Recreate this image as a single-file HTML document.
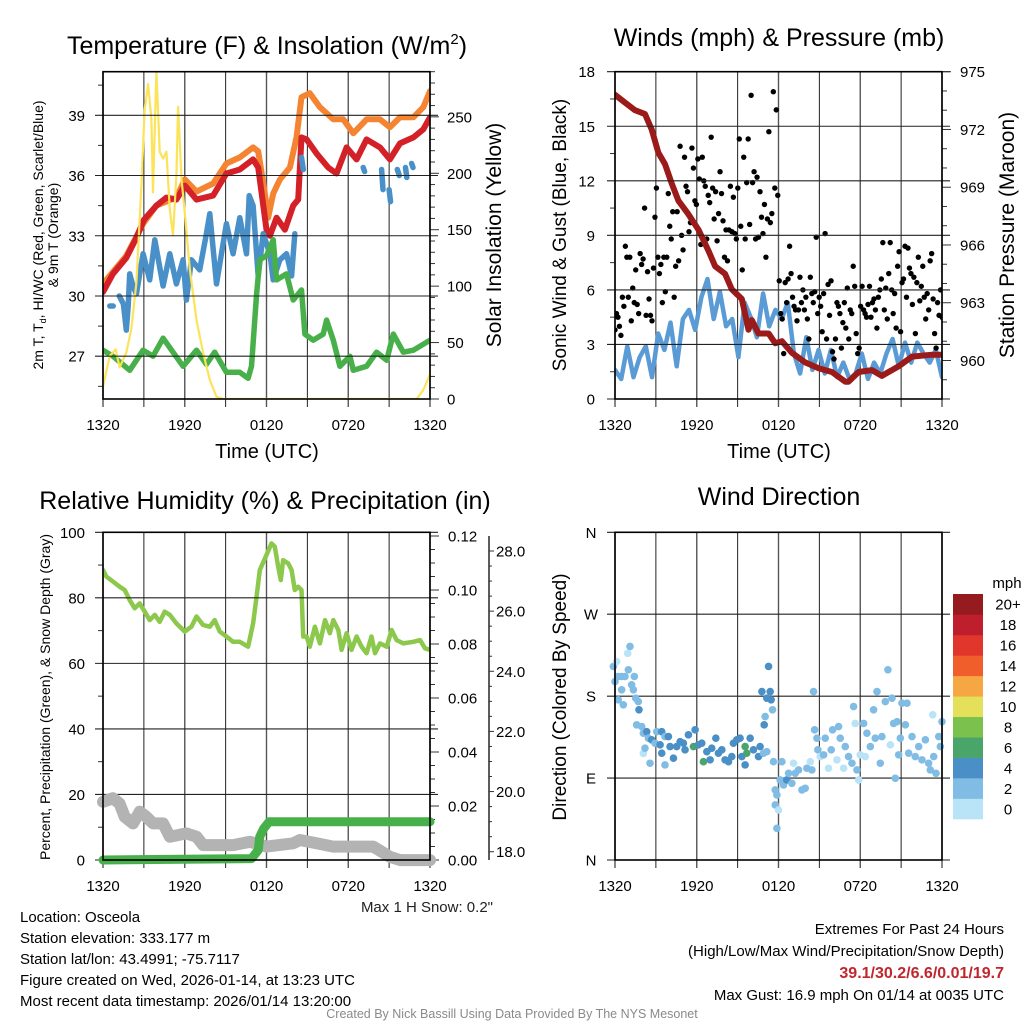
<!DOCTYPE html>
<html><head><meta charset="utf-8"><style>
html,body{margin:0;padding:0;background:#fff;}
svg{display:block;font-family:"Liberation Sans",Arial,sans-serif;}
</style></head><body>
<svg id="fig" width="1024" height="1024" viewBox="0 0 1024 1024"></svg>
<script>
// ---------------- DATA ----------------
const timeTickLabels = ["1320","1920","0120","0720","1320"];
// Panel 1 (hours since 1320 UTC)
const tempT = [0,0.73,1.71,2.45,3.01,3.92,4.65,5.39,6.0,6.86,8.08,9.06,10.04,11.02,11.39,12.0,12.25,12.74,13.35,13.96,14.33,14.57,14.94,15.67,16.53,17.14,17.88,18.61,19.35,20.33,21.06,21.8,22.78,23.51,24];
const tempV = [30.2,31.1,31.9,32.9,33.8,34.5,34.9,34.8,35.5,34.8,35.0,36.1,36.3,36.8,36.4,33.3,33.0,33.9,33.3,34.5,34.8,37.9,37.8,37.1,36.4,36.1,37.4,36.8,37.8,37.4,36.8,37.6,37.9,38.3,38.9];
const t9T = [0,1.71,2.94,3.92,5.39,6.0,6.86,8.08,9.06,10.04,11.02,11.39,11.88,12.12,12.49,12.98,13.72,14.2,14.57,15.18,15.92,16.9,17.63,18.37,19.35,20.33,21.06,21.8,22.78,23.51,24];
const t9V = [30.6,32.0,33.6,34.5,34.9,35.8,35.2,35.6,36.6,36.9,37.4,37.2,35.1,33.9,35.1,35.8,36.4,37.9,39.9,40.1,39.4,38.8,38.8,38.1,38.8,38.8,38.4,38.9,38.9,39.4,40.2];
const hiT = [0.5,0.75,null,1.2,1.5,1.71,1.85,1.96,2.2,2.45,2.94,3.43,3.8,4.41,4.9,5.39,5.88,6.12,6.49,7.1,7.59,7.84,8.33,9.06,9.55,10.04,10.53,10.73,11.02,11.39,11.76,12.25,12.49,12.98,13.47,13.84,14.08,null,14.57,14.7,null,19.1,19.2,null,20.45,20.55,null,21.0,21.1,null,21.6,21.75,null,22.2,22.3,null,22.65,22.75];
const hiV = [29.5,29.5,null,30.0,29.6,28.3,29.5,31.1,30.5,30.1,32.1,30.8,32.8,30.5,32.1,30.6,31.8,29.8,31.8,31.3,33.1,34.1,30.6,33.6,32.1,33.9,32.1,35.0,34.5,31.0,33.1,32.1,30.8,31.8,32.1,31.0,33.1,null,36.9,36.3,null,36.4,36.2,null,36.3,35.3,null,35.3,34.7,null,36.3,36.0,null,36.4,35.9,null,36.6,36.4];
const dewT = [0,0.73,1.96,2.94,3.67,4.41,5.14,5.88,6.86,7.59,8.2,9.06,10.04,10.65,10.9,11.27,11.51,12.0,12.49,12.74,13.47,13.96,14.57,14.82,15.43,16.16,16.41,16.9,17.39,18.12,18.37,19.35,20.08,20.82,21.31,22.04,22.78,24];
const dewV = [27.3,27.0,26.3,27.3,27.0,27.9,27.2,26.5,27.3,26.6,27.2,26.2,26.2,25.9,26.5,30.1,31.8,32.0,32.8,30.8,31.1,29.8,30.3,28.1,27.8,28.1,28.8,27.8,26.5,27.0,26.3,26.5,27.2,26.8,28.1,27.2,27.3,27.8];
const solT = [0,0.49,0.93,1.22,1.71,2.08,2.45,2.82,3.06,3.31,3.55,3.67,3.92,4.16,4.41,4.65,4.9,5.14,5.39,5.51,5.76,6.0,6.37,6.86,7.35,7.84,8.33,8.82,23.02,23.51,24];
const solV = [11,38,44,28,41,62,103,189,257,279,248,183,291,219,213,219,168,145,198,259,195,165,115,70,41,17,2,0,0,8,22];
const tempTicks = [27,30,33,36,39];
const solTicks = [0,50,100,150,200,250];
// Panel 2
const presT = [0,0.73,1.47,2.2,2.69,3.18,3.67,4.16,4.65,5.39,6.12,6.86,7.35,8.08,8.57,9.31,9.8,10.04,10.53,11.27,11.76,12.25,12.98,13.96,14.94,15.92,16.9,17.14,17.88,18.86,19.59,20.08,20.82,21.8,23.27,24];
const presV = [973.8,973.4,973.0,972.8,972.0,970.8,970.2,969.2,968.3,967.6,966.8,965.7,964.9,964.5,963.7,963.2,961.6,962.1,961.4,961.4,960.9,961.0,960.4,959.9,959.6,959.4,958.9,958.9,959.4,959.5,959.2,959.4,959.7,960.2,960.3,960.3];
const windV = [1.6,1.1,2.9,1.2,2.3,2.9,1.2,3.6,2.7,4.2,1.8,4.4,4.9,3.8,5.6,6.6,4.4,5.9,4.0,4.4,2.3,5.3,4.5,3.4,5.8,4.0,4.9,4.4,5.3,2.5,1.4,3.4,1.6,2.7,1.4,2.7,1.2,2.0,1.1,1.4,2.5,1.1,2.0,1.4,2.5,3.3,1.8,3.1,2.0,3.1,2.5,2.0,2.7,1.2];
const gustV = [3.8,4.7,4.5,4.0,3.5,5.6,5.1,8.4,7.8,5.6,7.8,4.3,6.1,5.3,7.1,5.2,4.7,8.0,7.4,7.7,10.5,4.6,7.0,5.5,4.6,4.3,7.2,10.0,11.6,7.8,6.9,7.4,5.3,7.8,5.9,7.8,11.3,9.5,8.8,10.3,5.6,7.3,10.3,7.6,13.9,9.0,8.2,13.3,11.7,11.4,9.2,9.7,13.8,12.7,10.9,10.7,13.2,12.1,8.5,13.3,12.0,11.7,8.8,11.2,10.8,14.4,11.6,9.9,11.4,8.7,10.2,12.5,11.3,9.8,7.8,9.3,7.6,9.3,11.7,9.2,11.1,9.1,8.8,11.6,14.3,9.5,7.1,13.3,8.8,11.9,14.3,9.6,16.7,11.9,12.5,8.8,12.2,8.9,11.4,10.0,9.1,10.7,7.8,9.9,14.7,9.7,10.2,16.9,11.6,15.9,11.2,6.5,4.7,4.4,2.5,6.4,5.3,6.6,8.4,6.9,5.6,5.1,4.9,4.3,4.9,6.7,5.3,6.0,4.9,5.6,4.4,3.3,6.7,5.8,5.3,5.9,8.9,4.7,5.6,5.1,3.7,5.8,9.1,3.3,6.3,4.6,6.5,2.6,2.2,3.3,5.3,5.1,4.7,2.8,4.2,5.3,3.9,6.1,3.3,4.9,4.7,7.3,6.2,3.6,2.5,2.8,5.1,6.2,4.9,4.7,4.5,5.2,6.2,4.5,5.3,5.5,4.9,3.9,5.6,6.0,6.6,8.6,4.9,6.1,4.4,6.9,8.6,6.0,4.7,5.8,3.9,7.3,8.1,3.7,6.4,6.6,8.4,5.6,8.3,7.2,6.9,5.2,6.7,3.6,6.4,7.8,5.4,6.2,7.3,5.6,4.4,5.8,4.9,7.6,8.0,5.5,3.6,2.8,5.3,4.6,6.0,4.5];
const windTicks = [0,3,6,9,12,15,18];
const presTicks = [960,963,966,969,972,975];
// Panel 3
const rhT = [0,0.24,0.73,1.22,1.59,1.96,2.33,2.69,3.06,3.43,3.8,4.16,4.53,4.9,5.39,6.0,6.49,6.86,7.35,7.84,8.2,8.57,9.06,9.55,10.04,10.65,11.02,11.27,11.51,12.0,12.37,12.61,12.86,13.05,13.22,13.59,13.84,14.08,14.33,14.57,14.69,14.94,15.18,15.55,15.92,16.29,16.65,16.9,17.27,17.51,17.88,18.24,18.61,18.98,19.35,19.71,19.96,20.33,20.82,21.18,21.55,22.04,22.78,23.27,23.63,24];
const rhV = [88.5,86.5,85,83.4,82.4,79.3,76.8,78.3,75.8,73.2,74.8,72.7,75.8,74.8,72.2,69.7,71.2,74.3,71.7,71.2,73.2,69.7,68.2,66.6,66.6,65.1,72.2,80.4,88.5,93.1,96.6,95.6,89.5,85.4,91.5,90.5,88.5,82.4,83.4,82.4,68.2,68.2,65.1,71.2,66.1,73.2,69.2,73.2,70.2,64.1,69.2,64.1,68.2,65.1,63.1,68.2,63.1,66.1,65.1,70.2,67.1,66.1,66.6,67.1,64.6,64.1];
const snowT = [0,0.73,1.22,1.59,2.2,2.69,3.18,3.67,4.41,4.9,6.12,6.86,7.35,9.55,10.78,12.0,13.96,14.45,15.67,16.9,19.84,21.06,21.8,24];
const snowV = [19.66,19.78,19.6,19.16,18.94,19.33,19.16,18.94,18.94,18.5,18.61,18.5,18.22,18.22,18.33,18.17,18.28,18.39,18.28,18.17,18.17,17.83,17.72,17.72];
const precT = [0,10.9,11.4,11.5,11.8,12.2,24];
const precV = [0,0.0005,0.0037,0.0086,0.0117,0.0142,0.0142];
const rhTicks = [0,20,40,60,80,100];
const precTicks = [0,0.02,0.04,0.06,0.08,0.10,0.12];
const precTickLabels = ["0.00","0.02","0.04","0.06","0.08","0.10","0.12"];
const snowTicks = [18,20,22,24,26,28];
const snowTickLabels = ["18.0","20.0","22.0","24.0","26.0","28.0"];
// Panel 4
const dirT = [-0.12,0.12,0,0.24,0.49,0.73,0.49,0.24,0.61,0.93,1.10,0.98,1.22,1.42,1.35,1.52,1.71,1.76,1.59,1.96,2.08,2.33,2.08,2.2,2.45,2.69,2.94,2.57,3.06,3.43,3.31,3.67,3.92,3.67,3.43,4.04,4.29,4.53,4.78,5.02,5.14,5.39,5.76,5.88,6.12,6.37,6.49,6.74,6.98,7.1,7.4,7.59,7.84,8.08,8.33,8.57,8.69,8.94,9.18,9.31,9.55,9.67,9.55,9.92,10.16,10.53,10.65,10.9,11.14,10.78,11.27,11.39,11.14,11.46,11.56,11.02,10.95,11.63,11.76,11.88,11.76,12.0,11.88,12.12,12.25,12.37,12.61,12.74,12.98,13.1,13.23,13.47,13.72,13.96,14.08,14.33,14.45,14.57,14.65,14.82,14.89,15.06,15.31,15.43,15.67,15.87,15.97,16.29,16.41,16.53,16.78,16.9,17.14,17.39,17.51,17.63,17.76,17.88,18.0,18.25,18.37,18.49,18.74,18.98,19.1,19.23,19.47,19.59,19.84,20.03,20.21,20.33,20.45,20.57,20.7,20.82,20.94,21.06,21.31,21.43,21.55,21.8,22.04,22.29,22.53,22.78,23.02,23.14,23.32,23.39,23.56,23.76,23.88,24];
const dirV = [212.6,218,196,201.6,201.6,201.6,187,176,170.5,227,234.6,209,192.5,201.6,187,177.8,174,165,148.5,146.6,139.3,141,117,122.8,133.8,132,128.3,106.3,141,141,126.5,135.6,135.6,104.5,117.3,124.6,111.8,124.6,130,128.3,121,137.5,124.6,143,126.5,128.3,108,119,110,122.8,133.8,117.3,121,110,108,113.6,128.3,132,133.8,113.6,124.6,117.3,104.5,133.8,121,113.6,124.6,117.3,119,185,212.6,185,177.8,176,165,157.6,148.5,108,77,71.5,60.5,55,34.8,88,108,82.5,88,95.3,84.3,106.3,95.3,99,77,78.8,100.8,108,99,185,143,133.8,121,113.6,115.5,133.8,100.8,121,143,110,146.6,133.8,100.8,124.6,113.6,106.3,168.6,150,99,88,115.5,150,113.6,139.3,124.6,165,133.8,185,106.3,135.6,174,209,126.5,177.8,150,89.8,152,115.5,133.8,172.3,148.5,172.3,117.3,135.6,113.6,124.6,110,132,106.3,99,159.5,113.6,95.3,135.6,124.6,152];
const dirS = [3,1,3,3,3,3,3,3,3,1,3,3,3,3,3,3,3,5,3,3,3,5,1,3,3,5,3,3,3,5,5,3,5,3,5,5,5,5,5,5,5,5,7,5,5,5,7,5,5,5,5,5,5,5,5,5,5,5,5,5,7,7,5,5,5,5,5,3,3,5,5,5,5,5,3,3,5,3,3,3,3,1,3,3,3,3,5,3,3,1,3,3,3,3,3,1,3,3,3,3,3,1,3,3,1,3,3,1,3,3,1,3,3,3,3,1,3,1,1,3,1,3,3,3,3,3,3,3,3,3,1,3,3,3,3,3,3,3,3,3,3,3,3,3,3,3,3,3,1,3,3,3,3,3];
const dirTicks = [0,90,180,270,360];
const dirTickLabels = ["N","E","S","W","N"];
const speedBins = ["0","2","4","6","8","10","12","14","16","18","20+"];
const speedColors = ["#b9e3f6","#80bce4","#4a8fc6","#4aa56b","#7ac14d","#e5e05a","#f6a744","#f05f2b","#e0362c","#bf1e2d","#951b1e"];

// ---------------- DRAWING ----------------
const NS="http://www.w3.org/2000/svg";
const svg=document.getElementById('fig');
function mk(tag,attrs,parent){const e=document.createElementNS(NS,tag);for(const k in attrs)e.setAttribute(k,attrs[k]);(parent||svg).appendChild(e);return e;}
function txt(s,x,y,size,anchor,parent,extra){const e=mk('text',Object.assign({x:x,y:y,'font-size':size,'text-anchor':anchor||'start',fill:'#000'},extra||{}),parent);e.textContent=s;return e;}

const X0=103,X1=430,X2=615,X3=942;
const Ytop=71.7,Ybot=399,Ytop2=532.3,Ybot2=860;
function sc(d0,d1,r0,r1){return v=>r0+(v-d0)/(d1-d0)*(r1-r0);}

const panels=[
 {name:'temperature-panel',x0:X0,x1:X1,y0:Ytop,y1:Ybot},
 {name:'wind-panel',x0:X2,x1:X3,y0:Ytop,y1:Ybot},
 {name:'humidity-panel',x0:X0,x1:X1,y0:Ytop2,y1:Ybot2},
 {name:'direction-panel',x0:X2,x1:X3,y0:Ytop2,y1:Ybot2}
];
const defs=mk('defs',{});
panels.forEach((p,i)=>{
  const cp=mk('clipPath',{id:'clip'+i},defs);
  mk('rect',{x:p.x0,y:p.y0,width:p.x1-p.x0,height:p.y1-p.y0},cp);
  p.xs=sc(0,24,p.x0,p.x1);
  const g=mk('g',{});
  
  
  p.g=g;
  for(let k=0;k<=8;k++){
    const x=p.xs(k*3);
    const gl=mk('line',{x1:x,x2:x,y1:p.y0,y2:p.y1+8,stroke:(k%2? '#222':'#555'),'stroke-width':(k%2?1:1.4)},g);
    
    
  }
  timeTickLabels.forEach((s,k)=>{
    const t=txt(s,p.xs(k*6),p.y1+31,15,'middle',g);
    
    
  });
  p.dataG=mk('g',{'clip-path':'url(#clip'+i+')'},g);
});

function hgrid(p,yv,y,len){const l=mk('line',{x1:p.x0-len,x2:p.x1+len,y1:y,y2:y,stroke:'#222','stroke-width':1.1},p.g);
  
  }
function tick(p,x,y,dx){const l=mk('line',{x1:x,x2:x+dx,y1:y,y2:y,stroke:'#333','stroke-width':1},p.g);
  
  }
function path(p,ts,vs,ys,color,w,name,cap){
  let d='',pen=false;
  for(let i=0;i<ts.length;i++){
    if(ts[i]===null||vs[i]===null){pen=false;continue;}
    const x=p.xs(ts[i]),y=ys(vs[i]);
    d+=(pen?'L':'M')+x.toFixed(1)+','+y.toFixed(1);pen=true;
  }
  const e=mk('path',{d:d,fill:'none',stroke:color,'stroke-width':w,'stroke-linejoin':'round','stroke-linecap':cap||'round'},p.dataG);
  
  
  return e;
}
function frame(p){
  const r=mk('rect',{x:p.x0,y:p.y0,width:p.x1-p.x0,height:p.y1-p.y0,fill:'none',stroke:'#000','stroke-width':1.6},p.g);
  
  
}
function vlabel(s,x,y,size,parent){
  const t=mk('text',{x:0,y:0,'font-size':size,'text-anchor':'middle',fill:'#000',transform:'translate('+x+','+y+') rotate(-90)'},parent||svg);
  t.textContent=s;return t;
}

// ===== Panel 1 =====
(function(){
  const p=panels[0];
  const yL=sc(24.87,41.17,p.y1,p.y0), yR=sc(0,290,p.y1,p.y0);
  tempTicks.forEach(v=>{hgrid(p,v,yL(v),8);
    const t=txt(String(v),85,yL(v)+5.5,15,'end',p.g);
    
    });
  for(let v=25.5;v<41;v+=3) tick(p,p.x0,yL(v),-5);
  solTicks.forEach(v=>{tick(p,p.x1,yR(v),9);
    const t=txt(String(v),447,yR(v)+5.5,15,'start',p.g);
    
    });
  for(let v=10;v<=290;v+=10) if(v%50) tick(p,p.x1,yR(v),5);
  path(p,t9T,t9V,yL,'#f48431',6,'temp-9m-orange-line');
  path(p,tempT,tempV,yL,'#d42027',6,'temp-2m-red-line');
  path(p,hiT,hiV,yL,'#4a90c8',5.5,'heat-index-windchill-blue-line');
  path(p,dewT,dewV,yL,'#48b04a',5.5,'dewpoint-green-line');
  path(p,solT,solV,yR,'#fbe35a',2.2,'solar-insolation-yellow-line');
  frame(p);
  const tt=txt('',267,54,25,'middle');
  tt.innerHTML='Temperature (F) &amp; Insolation (W/m<tspan dy="-10" font-size="15">2</tspan><tspan dy="10">)</tspan>';
  
  
  const xl=txt('Time (UTC)',267,458,20,'middle');
  
  
  const l1=vlabel('',43,235,14);
  l1.innerHTML='2m T, T<tspan dy="3" font-size="9">d</tspan><tspan dy="-3">, HI/WC (Red, Green, Scarlet/Blue)</tspan>';
  
  
  const l2=vlabel('& 9m T (Orange)',58,235,14);
  
  
  const r1=vlabel('Solar Insolation (Yellow)',501,235,21);
  
  
})();

// ===== Panel 2 =====
(function(){
  const p=panels[1];
  const yL=sc(0,18,p.y1,p.y0), yR=sc(958.0,975,p.y1,p.y0);
  windTicks.forEach(v=>{hgrid(p,v,yL(v),8);
    const t=txt(String(v),595,yL(v)+5.5,15,'end',p.g);
    
    });
  for(let v=1.5;v<18;v+=3) tick(p,p.x0,yL(v),-5);
  presTicks.forEach(v=>{tick(p,p.x1,yR(v),9);
    const t=txt(String(v),960,yR(v)+5.5,15,'start',p.g);
    
    });
  for(let v=959;v<=975;v+=1) if((v-960)%3) tick(p,p.x1,yR(v),5);
  const wt=windV.map((v,i)=>i*24/(windV.length-1));
  path(p,wt,windV,yL,'#5b9bd5',4.5,'sonic-wind-blue-line');
  const gG=mk('g',{},p.dataG);
  
  
  gustV.forEach((v,i)=>{
    const c=mk('circle',{cx:p.xs(i*24/(gustV.length-1)),cy:yL(v),r:2.7,fill:'#000'},gG);
    
    
  });
  path(p,presT,presV,yR,'#9b1b1b',6,'station-pressure-maroon-line');
  frame(p);
  const tt=txt('Winds (mph) & Pressure (mb)',779,46,25,'middle');
  
  
  const xl=txt('Time (UTC)',779,458,20,'middle');
  
  
  const l1=vlabel('Sonic Wind & Gust (Blue, Black)',566,235,19);
  
  
  const r1=vlabel('Station Pressure (Maroon)',1014,235,21);
  
  
})();

// ===== Panel 3 =====
(function(){
  const p=panels[2];
  const yL=sc(0,100,p.y1,p.y0), yP=sc(0,0.12,p.y1,536), yS=sc(18,28,851.7,551);
  rhTicks.forEach(v=>{hgrid(p,v,yL(v),8);
    const t=txt(String(v),85,yL(v)+5.5,15,'end',p.g);
    
    });
  for(let v=10;v<100;v+=20) tick(p,p.x0,yL(v),-5);
  precTicks.forEach((v,i)=>{tick(p,p.x1,yP(v),9);
    const t=txt(precTickLabels[i],448,yP(v)+5.5,15,'start',p.g);
    
    });
  for(let v=0.005;v<0.12;v+=0.005) if(Math.abs(v*50-Math.round(v*50))>0.01) tick(p,p.x1,yP(v),5);
  const ax=mk('line',{x1:489,x2:489,y1:536,y2:860,stroke:'#333','stroke-width':1.6},p.g);
  
  
  snowTicks.forEach((v,i)=>{tick(p,489,yS(v),5);
    const t=txt(snowTickLabels[i],496,yS(v)+5.5,15,'start',p.g);
    
    });
  for(let v=18.5;v<28.3;v+=0.5) if(Math.abs(v-Math.round(v/2)*2)>0.01) tick(p,489,yS(v),3);
  const dg=p.dataG; p.dataG=mk('g',{},p.g);
  path(p,snowT,snowV,yS,'#b3b3b3',12,'snow-depth-gray-line');
  path(p,precT,precV,yP,'#48b04a',9,'precipitation-green-line');
  p.dataG=dg;
  path(p,rhT,rhV,yL,'#8cc84b',4.5,'relative-humidity-line');
  frame(p);
  const tt=txt('Relative Humidity (%) & Precipitation (in)',265,509,25,'middle');
  
  
  const l1=vlabel('Percent, Precipitation (Green), & Snow Depth (Gray)',50,697,14);
  
  
})();

// ===== Panel 4 =====
(function(){
  const p=panels[3];
  const yD=sc(0,360,p.y1,p.y0);
  dirTicks.forEach((v,i)=>{hgrid(p,v,yD(v),8);
    const t=txt(dirTickLabels[i],591,yD(v)+5.5,15,'middle',p.g);
    
    });
  const dG=mk('g',{},p.g);
  
  
  const n=Math.min(dirT.length,dirV.length);
  for(let i=0;i<n;i++){
    const s=(dirS[i]===undefined)?3:dirS[i];
    const bin=Math.min(10,Math.floor(s/2));
    const c=mk('circle',{cx:p.xs(dirT[i]),cy:yD(dirV[i]),r:3.8,fill:speedColors[bin]},dG);
    
    
  }
  frame(p);
  const tt=txt('Wind Direction',779,505,25,'middle');
  
  
  const l1=vlabel('Direction (Colored By Speed)',566,697,19);
  
  
  const cb=mk('g',{});
  
  
  const bh=(819-594)/speedBins.length;
  speedBins.forEach((s,i)=>{
    const y=819-(i+1)*bh;
    const r=mk('rect',{x:953,y:y,width:30,height:bh+0.3,fill:speedColors[i]},cb);
    
    
    const t=txt(s,1008,y+bh/2+5.5,15,'middle',cb);
    
    
  });
  const u=txt('mph',1007,588,15,'middle',cb);
  
  
})();

// ===== Footer text =====
const info=["Location: Osceola","Station elevation: 333.177 m","Station lat/lon: 43.4991; -75.7117","Figure created on Wed, 2026-01-14, at 13:23 UTC","Most recent data timestamp: 2026/01/14 13:20:00"];
const infoY=[922,943,964,985,1006];
info.forEach((s,i)=>{const t=txt(s,20,infoY[i],15,'start');
  
  });
const ms=txt('Max 1 H Snow: 0.2"',493,912,15,'end',svg,{fill:'#222'});


const e1=txt('Extremes For Past 24 Hours',1004,934,15,'end');


const e2=txt('(High/Low/Max Wind/Precipitation/Snow Depth)',1004,956,15,'end');


const e3=txt('39.1/30.2/6.6/0.01/19.7',1004,978,16,'end',svg,{fill:'#c0272d','font-weight':'bold'});


const e4=txt('Max Gust: 16.9 mph On 01/14 at 0035 UTC',1004,1000,15,'end');


const cr=txt('Created By Nick Bassill Using Data Provided By The NYS Mesonet',512,1018,12.5,'middle',svg,{fill:'#8a8a8a'});


</script>
</body></html>
